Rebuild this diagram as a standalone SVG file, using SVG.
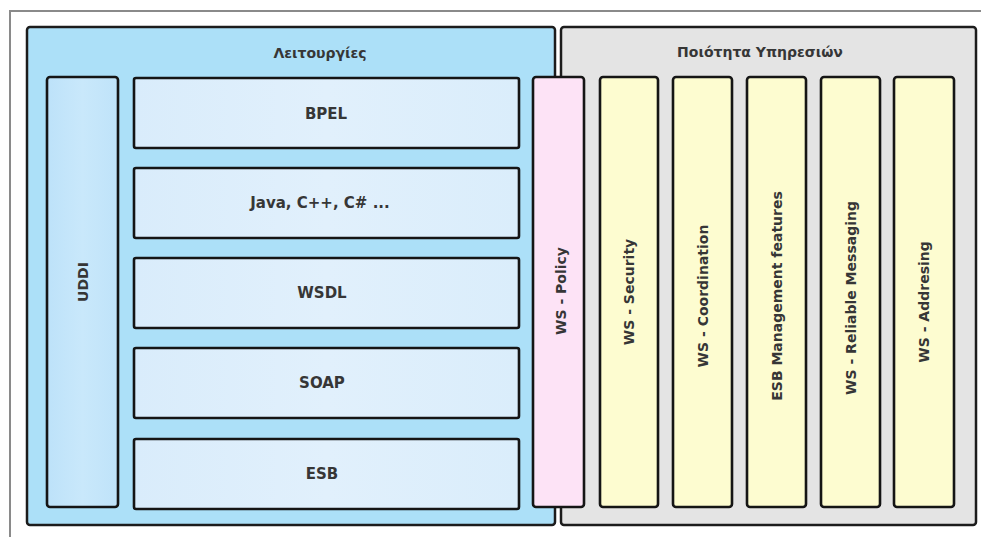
<svg xmlns="http://www.w3.org/2000/svg" width="981" height="537" viewBox="0 0 981 537">
  <style>
    .panel { stroke: #1c1c1c; stroke-width: 2.5; }
    .box { stroke: #151515; stroke-width: 2.6; }
    .lbl { font-family: "DejaVu Sans", Verdana, sans-serif; font-weight: bold; font-size: 15px; fill: #363636; text-anchor: middle; dominant-baseline: central; }
    .vlbl { font-family: "DejaVu Sans", Verdana, sans-serif; font-weight: bold; font-size: 14px; fill: #363636; text-anchor: middle; dominant-baseline: central; }
    .title { font-family: "DejaVu Sans", Verdana, sans-serif; font-weight: bold; font-size: 14px; fill: #363636; text-anchor: middle; dominant-baseline: central; }
  </style>
  <defs>
    <linearGradient id="uddiGrad" x1="0" y1="0" x2="1" y2="0">
      <stop offset="0" stop-color="#bde2f9"/>
      <stop offset="0.5" stop-color="#c9e8fb"/>
      <stop offset="1" stop-color="#bfe3f9"/>
    </linearGradient>
    <linearGradient id="layerGrad" x1="0" y1="0" x2="1" y2="0">
      <stop offset="0" stop-color="#d9ecfb"/>
      <stop offset="0.5" stop-color="#e1f0fc"/>
      <stop offset="1" stop-color="#daedfb"/>
    </linearGradient>
  </defs>
  <rect width="981" height="537" fill="#ffffff"/>
  <!-- outer frame -->
  <path d="M10,537 L10,11 L981,11" fill="none" stroke="#8a8a8a" stroke-width="2"/>

  <g id="panel-functions">
    <rect class="panel" x="27" y="27" width="528" height="498" rx="3" fill="#ace0f8"/>
    <text class="title" x="320" y="53">Λειτουργίες</text>
  </g>
  <g id="panel-qos">
    <rect class="panel" x="561" y="27" width="415" height="498" rx="3" fill="#e4e4e4"/>
    <text class="title" x="760" y="52">Ποιότητα Υπηρεσιών</text>
  </g>

  <g id="uddi">
    <rect class="box" x="47" y="77" width="71" height="430" rx="3" fill="url(#uddiGrad)"/>
    <text class="vlbl" transform="translate(83,282) rotate(-90)">UDDI</text>
  </g>
  <g id="bpel">
    <rect class="box" x="134" y="78" width="385" height="70" rx="2" fill="url(#layerGrad)"/>
    <text class="lbl" x="326" y="114">BPEL</text>
  </g>
  <g id="java">
    <rect class="box" x="134" y="168" width="385" height="70" rx="2" fill="url(#layerGrad)"/>
    <text class="lbl" x="320" y="203">Java, C++, C# ...</text>
  </g>
  <g id="wsdl">
    <rect class="box" x="134" y="258" width="385" height="70" rx="2" fill="url(#layerGrad)"/>
    <text class="lbl" x="322" y="293">WSDL</text>
  </g>
  <g id="soap">
    <rect class="box" x="134" y="348" width="385" height="70" rx="2" fill="url(#layerGrad)"/>
    <text class="lbl" x="322" y="383">SOAP</text>
  </g>
  <g id="esb">
    <rect class="box" x="134" y="439" width="385" height="70" rx="2" fill="url(#layerGrad)"/>
    <text class="lbl" x="322" y="474">ESB</text>
  </g>

  <g id="ws-policy">
    <rect class="box" x="533" y="77" width="51" height="430" rx="3" fill="#fde3f6"/>
    <text class="vlbl" transform="translate(561,291) rotate(-90)">WS - Policy</text>
  </g>
  <g id="ws-security">
    <rect class="box" x="600" y="77" width="58" height="430" rx="3" fill="#fdfcd0"/>
    <text class="vlbl" transform="translate(629,292) rotate(-90)">WS - Security</text>
  </g>
  <g id="ws-coordination">
    <rect class="box" x="673" y="77" width="59" height="430" rx="3" fill="#fdfcd0"/>
    <text class="vlbl" transform="translate(703,296) rotate(-90)">WS - Coordination</text>
  </g>
  <g id="esb-management">
    <rect class="box" x="747" y="77" width="59" height="430" rx="3" fill="#fdfcd0"/>
    <text class="vlbl" transform="translate(777,296) rotate(-90)">ESB Management features</text>
  </g>
  <g id="ws-reliable">
    <rect class="box" x="821" y="77" width="59" height="430" rx="3" fill="#fdfcd0"/>
    <text class="vlbl" transform="translate(851,298) rotate(-90)">WS - Reliable Messaging</text>
  </g>
  <g id="ws-addresing">
    <rect class="box" x="894" y="77" width="60" height="430" rx="3" fill="#fdfcd0"/>
    <text class="vlbl" transform="translate(924,302) rotate(-90)">WS - Addresing</text>
  </g>

  <g id="connectors"/>
</svg>
